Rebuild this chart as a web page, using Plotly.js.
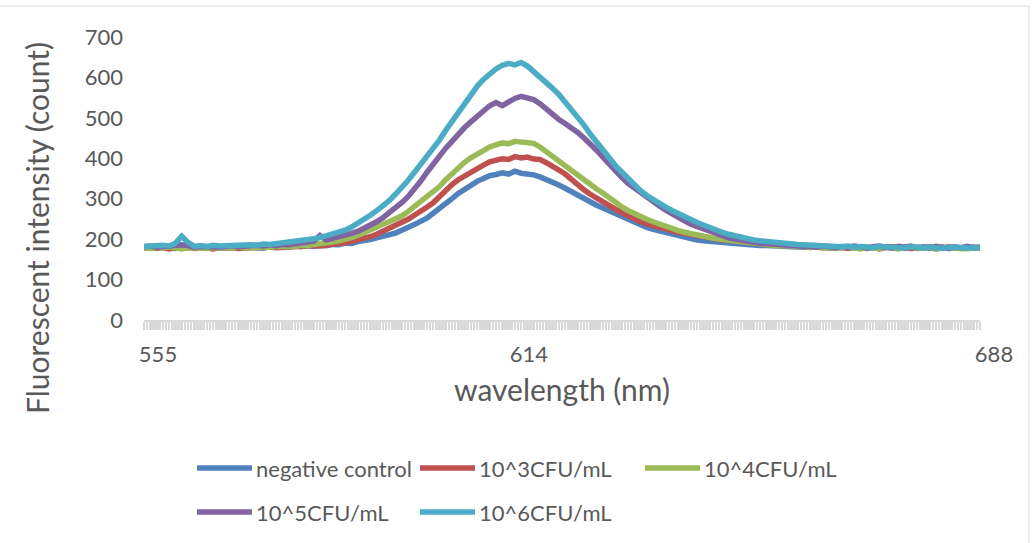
<!DOCTYPE html>
<html>
<head>
<meta charset="utf-8">
<script src="https://cdn.plot.ly/plotly-3.0.1.min.js"></script>
<style>html,body{margin:0;padding:0;background:#fff;}#chart{width:1034px;height:543px;}</style>
</head>
<body>
<div id="chart"></div>
<script>
// wavelength (nm)
const wavelength = [555,556,557,558,559,560,561,562,563,564,565,566,567,568,569,570,571,572,573,574,575,576,577,578,579,580,581,582,583,584,585,586,587,588,589,590,591,592,593,594,595,596,597,598,599,600,601,602,603,604,605,606,607,608,609,610,611,612,613,614,615,616,617,618,619,620,621,622,623,624,625,626,627,628,629,630,631,632,633,634,635,636,637,638,639,640,641,642,643,644,645,646,647,648,649,650,651,652,653,654,655,656,657,658,659,660,661,662,663,664,665,666,667,668,669,670,671,672,673,674,675,676,677,678,679,680,681,682,683,684,685,686,687,688];

const seriesNames = ["negative control","10^3CFU/mL","10^4CFU/mL","10^5CFU/mL","10^6CFU/mL"];
const seriesColors = ["#4F81BD","#C0504D","#9BBB59","#8064A2","#4BACC6"];

const negativeControl = [180,178,181,179,180,177,180,178,181,179,178,180,179,181,178,180,179,181,180,178,181,180,182,180,183,181,184,182,185,184,187,186,190,189,194,195,199,203,206,211,215,222,228,236,244,252,264,275,289,300,313,323,336,343,350,357,360,364,361,368,363,362,359,354,348,343,334,326,317,309,300,292,284,277,270,263,256,248,240,233,229,224,220,215,211,207,204,201,198,196,194,193,191,190,189,188,186,186,184,184,183,182,183,181,182,180,181,179,180,178,180,179,181,178,180,177,179,180,178,181,179,177,180,178,179,181,178,180,177,179,180,178,179,180];

const cfu1e3 = [178,180,177,179,176,179,178,180,177,179,178,176,179,178,180,177,179,178,180,179,181,179,180,182,180,183,182,184,183,186,187,189,191,194,197,201,206,212,219,226,234,242,249,259,268,279,290,306,321,335,347,357,367,375,383,391,394,399,397,404,401,403,398,397,389,381,371,361,347,334,322,311,301,292,283,274,266,258,250,243,238,233,229,225,221,217,214,210,208,205,203,200,198,197,195,193,191,190,189,187,187,185,185,183,184,182,180,182,179,181,178,180,177,181,179,178,180,176,179,181,178,180,177,179,178,180,176,179,181,178,177,179,180,178];

const cfu1e4 = [179,177,180,178,181,178,176,179,178,180,177,179,178,180,179,181,178,180,179,181,180,182,181,183,182,185,184,187,188,191,193,196,199,204,209,216,223,229,236,242,249,257,268,280,292,302,314,330,347,362,376,390,401,410,420,428,433,438,436,442,440,439,437,428,416,406,395,383,370,358,346,335,324,314,302,291,280,271,263,256,249,243,237,231,226,221,217,213,210,207,204,201,199,197,194,192,190,189,187,186,185,183,184,182,181,182,179,181,178,180,177,179,181,178,176,180,179,177,180,178,176,179,181,177,179,178,176,180,178,177,179,176,178,179];

const cfu1e5 = [181,183,180,182,181,183,186,184,180,182,181,183,180,182,184,181,183,182,185,183,186,184,187,186,189,190,192,195,209,198,202,205,209,214,219,226,235,243,253,264,277,290,305,322,343,365,386,405,425,442,460,476,490,505,517,530,538,530,541,548,553,549,545,535,522,507,496,486,476,464,450,436,420,403,385,368,353,338,326,314,303,293,282,272,262,253,245,237,231,225,219,213,208,203,200,197,194,192,190,189,187,186,185,184,183,184,182,180,183,181,179,182,180,183,181,179,181,183,180,178,182,180,183,179,181,178,182,180,177,181,179,182,178,180];

const cfu1e6 = [182,184,183,185,183,190,207,192,182,184,182,185,183,184,182,185,184,186,185,188,187,189,191,190,193,195,198,201,204,208,212,216,222,230,239,249,259,270,282,295,311,327,345,365,384,402,421,445,469,492,515,538,558,578,595,610,621,630,635,631,637,628,615,602,588,573,558,540,520,502,482,460,440,420,400,382,366,350,334,320,308,297,287,279,271,263,256,248,241,235,228,222,217,212,208,205,202,198,196,194,192,190,189,188,187,186,185,184,183,184,182,181,183,180,182,181,179,182,180,181,179,178,181,180,178,180,179,177,180,178,179,178,180,179];

const xTicks = [555, 614, 688];
const yTicks = [0,100,200,300,400,500,600,700];

const seriesValues = [negativeControl, cfu1e3, cfu1e4, cfu1e5, cfu1e6];

const FONT = "Lato, 'Open Sans', sans-serif";
const GREY = "#595959";

const traces = seriesValues.map((vals, i) => ({
  type: "scatter",
  mode: "lines",
  x: wavelength,
  y: vals,
  name: seriesNames[i],
  line: {color: seriesColors[i], width: 5.5, shape: "linear"},
  showlegend: false,
  hoverinfo: "x+y+name"
}));

// pixel helpers for legend / frame placement (plot area: x 144..980, y 37..320)
const L = 144, R = 980, T = 37, B = 320;
const px = v => (v - L) / (R - L);
const py = v => (B - v) / (B - T);

const legendItems = [
  {lx: 197, y: 468}, {lx: 420, y: 468}, {lx: 645, y: 468},
  {lx: 197, y: 512}, {lx: 420, y: 512}
];

const shapes = [];
const annotations = [];
legendItems.forEach((it, i) => {
  shapes.push({type: "line", xref: "paper", yref: "paper",
    x0: px(it.lx), x1: px(it.lx + 55), y0: py(it.y), y1: py(it.y),
    line: {color: seriesColors[i], width: 5.5}});
  annotations.push({xref: "paper", yref: "paper", x: px(it.lx + 57), y: py(it.y),
    xanchor: "left", yanchor: "middle", showarrow: false, text: seriesNames[i],
    font: {family: FONT, size: 22, color: GREY}});
});
// chart-area frame
shapes.push({type: "rect", xref: "paper", yref: "paper",
  x0: px(-5), x1: px(1029), y0: py(560), y1: py(6),
  line: {color: "#d9d9d9", width: 1}, fillcolor: "rgba(0,0,0,0)", layer: "below"});
// y-axis title centred on the chart area (as in the original)
annotations.push({xref: "paper", yref: "paper", x: px(37), y: py(228),
  xanchor: "center", yanchor: "middle", showarrow: false, textangle: -90,
  text: "Fluorescent intensity (count)", font: {family: FONT, size: 30, color: GREY}});

const layout = {
  width: 1034, height: 543,
  margin: {l: L, r: 1034 - R, t: T, b: 543 - B},
  paper_bgcolor: "#ffffff", plot_bgcolor: "#ffffff",
  font: {family: FONT, color: GREY},
  xaxis: {
    range: [555, 688], tickmode: "array", tickvals: xTicks, ticktext: xTicks.map(String),
    showgrid: false, zeroline: false,
    showline: true, linecolor: "#d9d9d9", linewidth: 2,
    ticks: "outside", ticklen: 8, tickwidth: 2.5, tickcolor: "#d9d9d9",
    minor: {ticks: "outside", dtick: 0.5, tick0: 555, ticklen: 8, tickwidth: 2.5, tickcolor: "#d9d9d9", showgrid: false},
    tickfont: {family: FONT, size: 22, color: GREY},
    ticklabelshift: 14, ticklabelstandoff: 6,
    title: {text: "wavelength (nm)", font: {family: FONT, size: 30, color: GREY}, standoff: 14}
  },
  yaxis: {
    range: [0, 700], tickmode: "array", tickvals: yTicks,
    showgrid: false, zeroline: false, showline: false, ticks: "",
    tickfont: {family: FONT, size: 22, color: GREY},
    ticklabelstandoff: 20
  },
  showlegend: false,
  shapes: shapes,
  annotations: annotations
};

Plotly.newPlot("chart", traces, layout, {displayModeBar: false, staticPlot: true});
</script>
</body>
</html>
